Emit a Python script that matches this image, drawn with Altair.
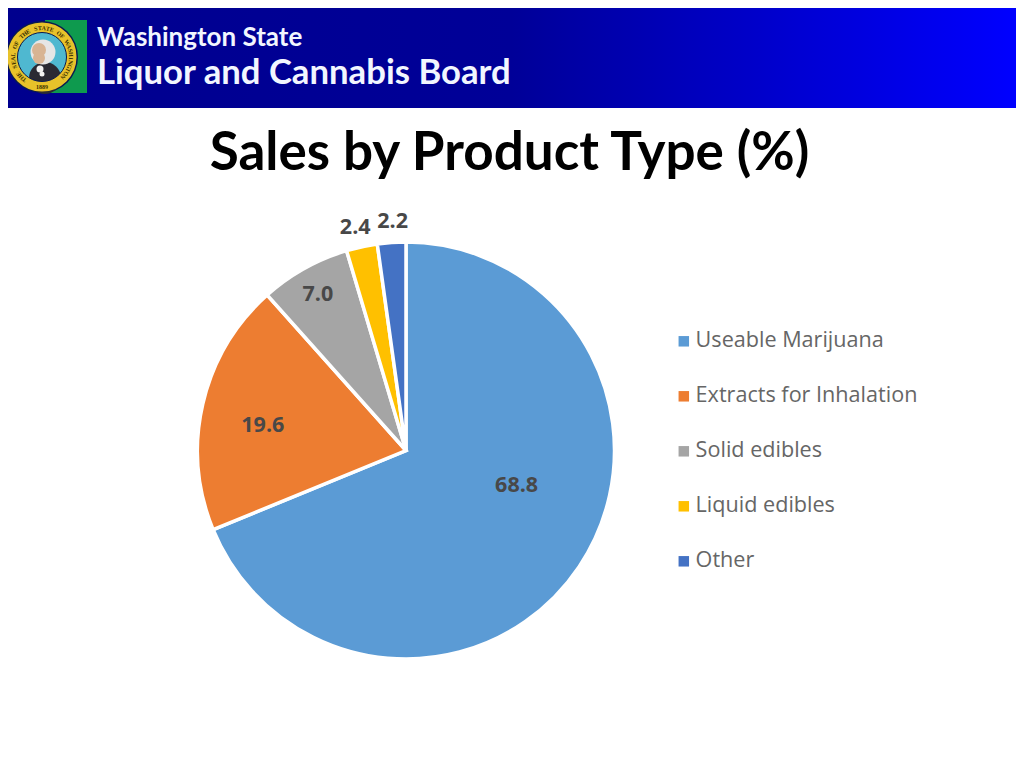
import altair as alt
import pandas as pd

categories = ["Useable Marijuana", "Extracts for Inhalation", "Solid edibles", "Liquid edibles", "Other"]
values = [68.8, 19.6, 7.0, 2.4, 2.2]
colors = ["#5B9BD5", "#ED7D31", "#A5A5A5", "#FFC000", "#4472C4"]
seal_words = "THE SEAL OF THE STATE OF WASHINGTON"

rows, cum = [], 0.0
for i, (c, v) in enumerate(zip(categories, values)):
    rows.append({"cat": c, "val": v, "ord": i, "mid": cum + v / 2, "label": f"{v:.1f}"})
    cum += v
df = pd.DataFrame(rows)
one = pd.DataFrame({"a": [0]})
DOMAIN = alt.Scale(domain=[0, 100])
CX, CY = 398, 442.5


def rect(x, x2, y, y2, color):
    return alt.Chart(one).mark_rect(color=color).encode(
        x=alt.value(x), x2=alt.value(x2), y=alt.value(y), y2=alt.value(y2))


def dot(x, y, d, color):
    return alt.Chart(one).mark_point(filled=True, size=d * d, color=color, opacity=1).encode(
        x=alt.value(x), y=alt.value(y))


def ring(x, y, d, width, color):
    return alt.Chart(one).mark_point(filled=False, size=d * d, color=color, opacity=1,
                                     strokeWidth=width).encode(
        x=alt.value(x), y=alt.value(y))


def text(s, x, y, size, color, font="Lato", weight="bold", align="left"):
    return alt.Chart(pd.DataFrame({"t": [s]})).mark_text(
        font=font, fontSize=size, fontWeight=weight, color=color, align=align,
        baseline="alphabetic").encode(
        text="t:N", x=alt.value(x), y=alt.value(y))


banner = alt.Chart(one).mark_rect(
    color=alt.LinearGradient(
        gradient="linear", x1=0, x2=1, y1=0, y2=0,
        stops=[alt.GradientStop(offset=0, color="#00008E"),
               alt.GradientStop(offset=0.5, color="#000098"),
               alt.GradientStop(offset=1, color="#0000FF")])
).encode(x=alt.value(0), x2=alt.value(1008), y=alt.value(0), y2=alt.value(100))

seal = [
    rect(37, 79, 12, 85, "#0E9A4E"),
    dot(34, 49, 72, "#0A1A50"),
    dot(34, 49, 50, "#4FB8D0"),
    dot(37, 70, 32, "#2A2A33"),
    dot(35, 44, 25, "#E6E6E6"),
    dot(31, 42, 14, "#D8B493"),
    dot(31, 50, 12, "#D8B493"),
    dot(32, 61, 7, "#F2F2F2"),
    dot(34, 66, 5, "#F2F2F2"),
    ring(34, 49, 59, 10, "#E8C22A"),
    ring(34, 49, 49, 1, "#0A1A50"),
]

letters = pd.DataFrame({
    "ch": list(seal_words),
    "pos": [(-142 + i * 8.1) / 3.6 % 100 for i in range(len(seal_words))],
})
letters["ang"] = letters["pos"] * 3.6
seal_text = alt.Chart(letters).mark_text(
    radius=29, fontSize=6, font="Liberation Serif", fontWeight="bold", color="#3A3000"
).encode(
    x=alt.value(34), y=alt.value(49),
    theta=alt.Theta("pos:Q", scale=DOMAIN),
    angle=alt.Angle("ang:Q", scale=None),
    text="ch:N",
)
seal_year = text("1889", 34, 81, 6, "#3A3000", font="Liberation Serif", align="center")

pie = alt.Chart(df).mark_arc(radius=208.5, stroke="white", strokeWidth=3.5).encode(
    x=alt.value(CX), y=alt.value(CY),
    theta=alt.Theta("val:Q", stack=True, scale=DOMAIN),
    order=alt.Order("ord:Q"),
    color=alt.Color("cat:N", sort=categories,
                    scale=alt.Scale(domain=categories, range=colors),
                    legend=alt.Legend(
                        orient="none", legendX=665, legendY=322.5, title=None,
                        symbolType="square", symbolSize=110, symbolStrokeWidth=0,
                        labelFont="Open Sans", labelFontSize=21.6, labelColor="#666666",
                        rowPadding=32, labelLimit=400, labelOffset=1)),
)

offsets = [(-14, -48), (3, 9), (-15, -25), (-19, -76), (-3, -79)]
labels = []
for i, (ox, oy) in enumerate(offsets):
    labels.append(
        alt.Chart(df.iloc[[i]]).mark_text(
            radius=150, dx=ox, dy=oy, font="Open Sans", fontSize=21.5, fontWeight="bold",
            color="#484848", align="center", baseline="middle"
        ).encode(
            x=alt.value(CX), y=alt.value(CY),
            theta=alt.Theta("mid:Q", scale=DOMAIN),
            text="label:N",
        )
    )

chart = alt.layer(
    banner,
    *seal,
    seal_text,
    seal_year,
    text("Washington State", 89, 38, 26, "#F2F6FF"),
    text("Liquor and Cannabis Board", 89, 76, 34.7, "#F2F6FF"),
    text("Sales by Product Type (%)", 501.5, 162, 53, "#000000", align="center"),
    pie,
    *labels,
).properties(
    width=1008, height=750, padding=0,
    autosize=alt.AutoSizeParams(type="none"),
).configure_view(stroke=None)

chart.save("out.html", embed_options={"renderer": "svg", "actions": False})
